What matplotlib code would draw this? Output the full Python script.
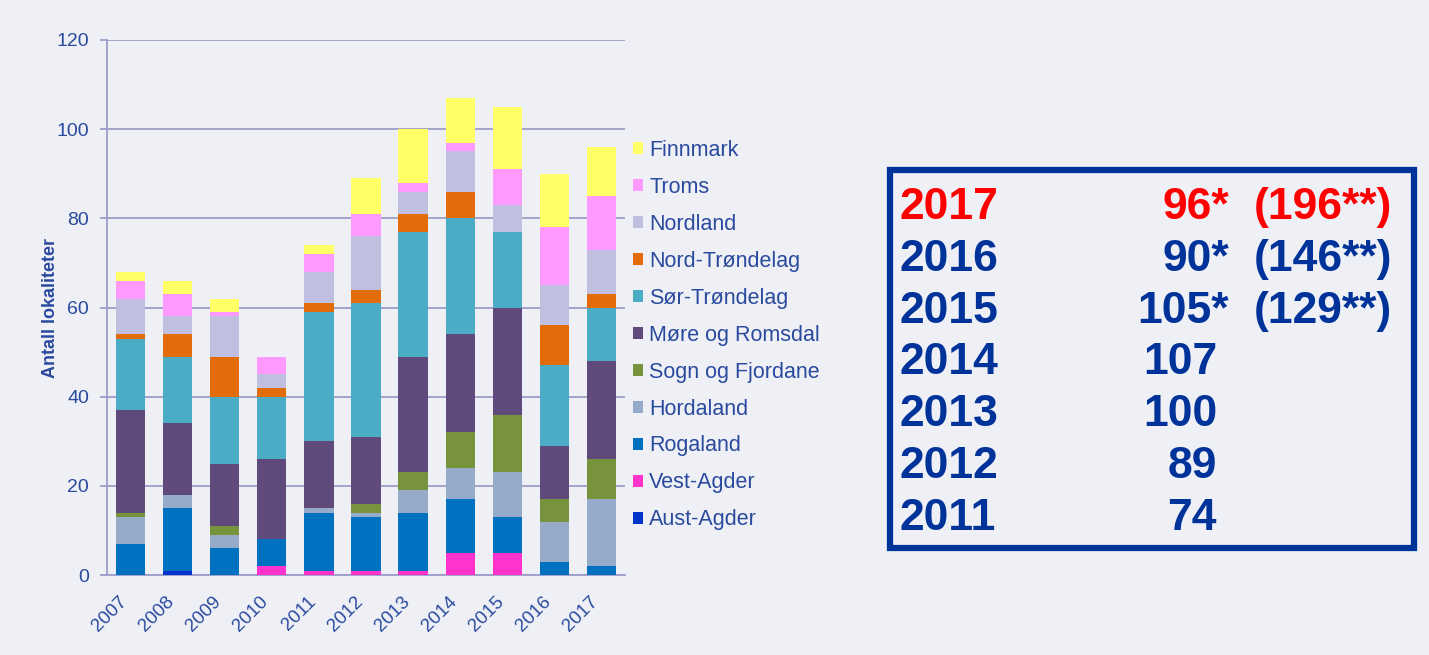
import numpy as np
import matplotlib.pyplot as plt
from matplotlib.patches import Rectangle

# Data (bottom -> top of each stack)
years = ['2007', '2008', '2009', '2010', '2011', '2012', '2013', '2014', '2015', '2016', '2017']
aust_agder = [0, 1, 0, 0, 0, 0, 0, 0, 0, 0, 0]
vest_agder = [0, 0, 0, 2, 1, 1, 1, 5, 5, 0, 0]
rogaland = [7, 14, 6, 6, 13, 12, 13, 12, 8, 3, 2]
hordaland = [6, 3, 3, 0, 1, 1, 5, 7, 10, 9, 15]
sogn_fjordane = [1, 0, 2, 0, 0, 2, 4, 8, 13, 5, 9]
more_romsdal = [23, 16, 14, 18, 15, 15, 26, 22, 24, 12, 22]
sor_trondelag = [16, 15, 15, 14, 29, 30, 28, 26, 17, 18, 12]
nord_trondelag = [1, 5, 9, 2, 2, 3, 4, 6, 0, 9, 3]
nordland = [8, 4, 9, 3, 7, 12, 5, 9, 6, 9, 10]
troms = [4, 5, 1, 4, 4, 5, 2, 2, 8, 13, 12]
finnmark = [2, 3, 3, 0, 2, 8, 12, 10, 14, 12, 11]

series = [
    ('Aust-Agder', aust_agder, '#0033cc'),
    ('Vest-Agder', vest_agder, '#ff33cc'),
    ('Rogaland', rogaland, '#0070c0'),
    ('Hordaland', hordaland, '#95abc9'),
    ('Sogn og Fjordane', sogn_fjordane, '#77933c'),
    ('Møre og Romsdal', more_romsdal, '#604a7b'),
    ('Sør-Trøndelag', sor_trondelag, '#4bacc6'),
    ('Nord-Trøndelag', nord_trondelag, '#e36c0a'),
    ('Nordland', nordland, '#c0bfdf'),
    ('Troms', troms, '#ff99ff'),
    ('Finnmark', finnmark, '#ffff66'),
]

# Summary table on the right
table_years = ['2017', '2016', '2015', '2014', '2013', '2012', '2011']
table_counts = ['96*', '90*', '105*', '107', '100', '89', '74']
table_extra = ['(196**)', '(146**)', '(129**)', '', '', '', '']
table_colors = ['#ff0000'] + ['#003399'] * 6

W, H = 1429, 655
bg = '#eff0f6'
grid_c = '#9c9ec9'
text_c = '#2a4a9e'

plt.rcParams['font.family'] = ['Liberation Sans', 'DejaVu Sans']

fig = plt.figure(figsize=(W / 100, H / 100), dpi=100, facecolor=bg)
ax = fig.add_axes([107 / W, 1 - 575 / H, (625 - 107) / W, (575 - 40) / H])
ax.set_facecolor(bg)

x = np.arange(len(years))
bottom = np.zeros(len(years))
handles = []
for name, vals, col in series:
    b = ax.bar(x, vals, 0.62, bottom=bottom, color=col, label=name,
               edgecolor='none', zorder=3)
    handles.append(b)
    bottom += np.array(vals)

ax.set_xlim(-0.5, len(years) - 0.5)
ax.set_ylim(0, 120)
ax.set_yticks(range(0, 121, 20))
ax.yaxis.grid(True, color=grid_c, lw=1.3, zorder=0)
ax.set_axisbelow(True)
for s in ['top', 'right']:
    ax.spines[s].set_visible(False)
for s in ['left', 'bottom']:
    ax.spines[s].set_color(grid_c)
    ax.spines[s].set_linewidth(1.3)

ax.set_xticks(x)
ax.set_xticklabels(years, rotation=45, ha='right', va='top')
ax.tick_params(axis='x', length=0, pad=13, labelsize=13.5, labelcolor=text_c)
ax.tick_params(axis='y', length=5, width=1.3, color=grid_c, pad=8,
               labelsize=14, labelcolor=text_c)
ax.set_ylabel('Antall lokaliteter', fontsize=13, fontweight='bold',
              color=text_c, labelpad=-2)

leg = fig.legend(handles[::-1], [s[0] for s in series][::-1],
                 loc='upper left', bbox_to_anchor=(633 / W, 1 - 140 / H),
                 frameon=False, fontsize=15.5, borderpad=0, borderaxespad=0,
                 handlelength=0.47, handleheight=0.47, handletextpad=0.28,
                 labelspacing=0.74, labelcolor=text_c)

# Boxed summary
fig.patches.append(Rectangle((890 / W, 1 - 548 / H), (1414 - 890) / W,
                             (548 - 170) / H, transform=fig.transFigure,
                             fill=False, ec='#003399', lw=4.5))
cap = 32
for i, (yr, cnt, ex, col) in enumerate(zip(table_years, table_counts,
                                           table_extra, table_colors)):
    yc = 203 + i * 51.8
    yb = 1 - (yc + cap / 2) / H
    kw = dict(fontsize=32, fontweight='bold', color=col, va='baseline')
    fig.text(899 / W, yb, yr, ha='left', **kw)
    xr = 1229 if '*' in cnt else 1217
    fig.text(xr / W, yb, cnt, ha='right', **kw)
    if ex:
        fig.text(1254 / W, yb, ex, ha='left', **kw)

fig.savefig('out.png', dpi=100, facecolor=bg)
